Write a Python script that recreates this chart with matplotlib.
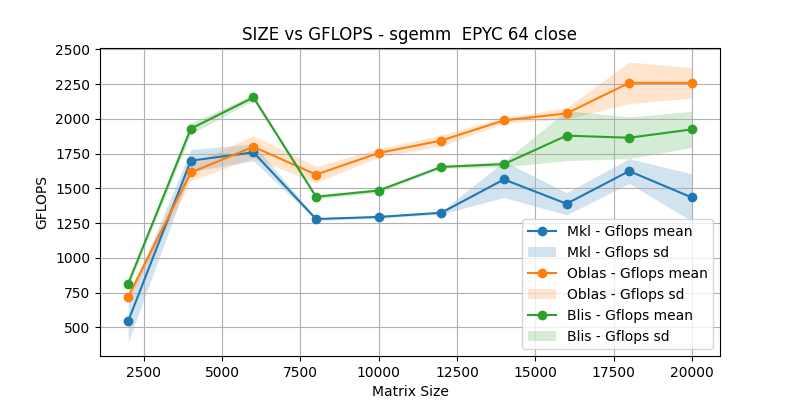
import matplotlib
matplotlib.use("Agg")
import matplotlib.pyplot as plt
import numpy as np

sizes = [2000, 4000, 6000, 8000, 10000, 12000, 14000, 16000, 18000, 20000]

mkl_mean = [545, 1700, 1760, 1280, 1295, 1325, 1565, 1390, 1625, 1435]
mkl_sd = [150, 80, 60, 10, 10, 10, 130, 80, 90, 170]
oblas_mean = [720, 1615, 1800, 1600, 1755, 1845, 1990, 2040, 2260, 2260]
oblas_sd = [30, 60, 80, 60, 30, 40, 20, 40, 150, 110]
blis_mean = [815, 1930, 2155, 1440, 1485, 1655, 1675, 1880, 1865, 1925]
blis_sd = [20, 40, 20, 15, 15, 10, 20, 180, 150, 130]

series = [("Mkl", mkl_mean, mkl_sd, "C0"),
          ("Oblas", oblas_mean, oblas_sd, "C1"),
          ("Blis", blis_mean, blis_sd, "C2")]

fig, ax = plt.subplots(figsize=(8, 4), dpi=100)
for name, mean, sd, c in series:
    m = np.array(mean)
    s = np.array(sd)
    ax.plot(sizes, m, marker="o", color=c, label=f"{name} - Gflops mean")
    ax.fill_between(sizes, m - s, m + s, color=c, alpha=0.2, lw=0,
                    label=f"{name} - Gflops sd")

ax.set_title("SIZE vs GFLOPS - sgemm  EPYC 64 close")
ax.set_xlabel("Matrix Size")
ax.set_ylabel("GFLOPS")
ax.grid(True)
ax.legend(loc="lower right")
fig.subplots_adjust(left=0.125, right=0.9, top=0.88, bottom=0.11)
fig.savefig("out.png")
